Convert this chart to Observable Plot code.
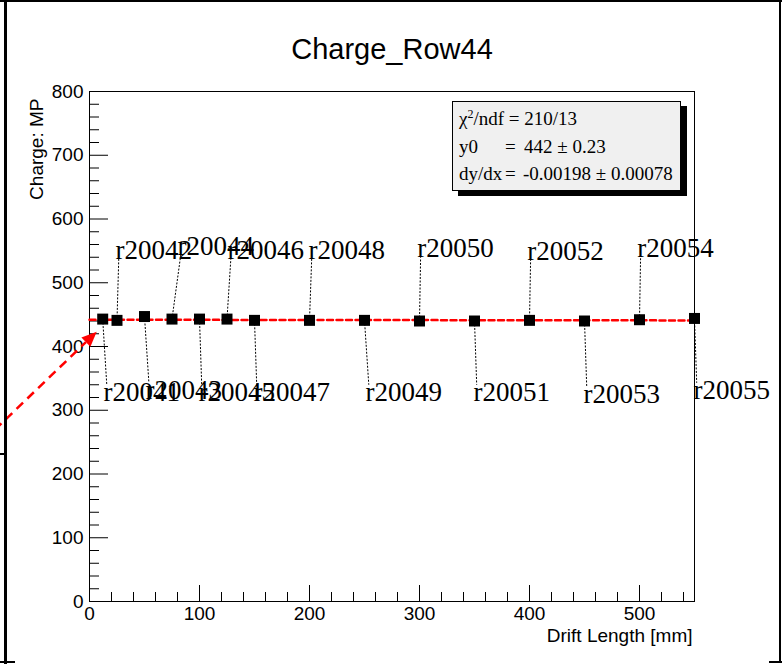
<!DOCTYPE html>
<html><head><meta charset="utf-8">
<script src="https://cdn.jsdelivr.net/npm/d3@7"></script>
<script src="https://cdn.jsdelivr.net/npm/@observablehq/plot@0.6"></script>
<style>
html,body{margin:0;padding:0;background:#fff;}
#wrap{position:relative;width:782px;height:664px;overflow:hidden;background:#fff;}
#wrap svg{position:absolute;left:0;top:0;}
.ln{position:absolute;background:#000;}
#stats{position:absolute;left:452px;top:101px;width:229px;height:90px;background:#f0f0f0;border:1px solid #000;box-shadow:6px 5px 0 #000;box-sizing:border-box;font-family:"Liberation Serif","Times New Roman",serif;font-size:19px;color:#000;}
#stats span{position:absolute;white-space:pre;line-height:1;}
</style></head><body><div id="wrap"></div>
<script>
// ---- data ----
const driftLength = [12, 25, 50, 75, 100, 125, 150, 200, 250, 300, 350, 400, 450, 500, 550];
const chargeMP    = [443, 441, 447, 443, 443, 443, 441, 441, 441, 440, 440, 441, 440, 442, 444];
const runLabels   = ["r20041","r20042","r20043","r20044","r20045","r20046","r20047","r20048",
                     "r20049","r20050","r20051","r20052","r20053","r20054","r20055"];
const labelSide   = ["bottom","top","bottom","top","bottom","top","bottom","top",
                     "bottom","top","bottom","top","bottom","top","bottom"];
const labelX      = [12.7, 23.6, 51, 80, 99, 125.5, 149, 199, 250.9, 298, 349, 398, 449, 498, 549];
const labelY      = [314, 538, 317, 544, 314, 538, 314, 538, 314, 540, 314, 536, 312, 541, 317];
const fitY0 = 442, fitSlope = -0.00198;
const statNames  = ["\u03c7\u00b2/ndf", "y0", "dy/dx"];
const statValues = ["210/13", "442 \u00b1 0.23", "-0.00198 \u00b1 0.00078"];
const xMajor = [0, 100, 200, 300, 400, 500];
const xMinor = [20,40,60,80,120,140,160,180,220,240,260,280,320,340,360,380,420,440,460,480,520,540];
const yMajor = [0, 100, 200, 300, 400, 500, 600, 700, 800];
const yMinor = [20,40,60,80,120,140,160,180,220,240,260,280,320,340,360,380,420,440,460,480,
                520,540,560,580,620,640,660,680,720,740,760,780];
const arrowFrom = {x: -85.5, y: 268.7};
const arrowTo   = {x: 7, y: 422.4};

const points = driftLength.map((x, i) => ({x, y: chargeMP[i], run: runLabels[i], side: labelSide[i], lx: labelX[i], ly: labelY[i]}));
const fitLine = [0, 550].map(x => ({x, y: fitY0 + fitSlope * x}));

const W = 782, H = 664, mL = 89, mR = 88, mT = 91, mB = 63;
const innerW = W - mL - mR, innerH = H - mT - mB;
const sans = "'Liberation Sans', Arial, Helvetica, sans-serif";
const serif = "'Liberation Serif', 'Times New Roman', serif";

const chart = Plot.plot({
  width: W, height: H,
  marginLeft: mL, marginRight: mR, marginTop: mT, marginBottom: mB,
  style: {fontFamily: sans, fontSize: "19px", color: "#000", background: "transparent", overflow: "visible"},
  x: {domain: [0, 550], axis: null},
  y: {domain: [0, 800], axis: null},
  marks: [
    Plot.frame({stroke: "#000", strokeWidth: 1}),
    // ticks (inside the frame)
    Plot.tickX(xMajor, {x: d => d, insetTop: innerH - 16, stroke: "#000", strokeWidth: 1}),
    Plot.tickX(xMinor, {x: d => d, insetTop: innerH - 9, stroke: "#000", strokeWidth: 1}),
    Plot.tickY(yMajor, {y: d => d, insetRight: innerW - 19, stroke: "#000", strokeWidth: 1}),
    Plot.tickY(yMinor, {y: d => d, insetRight: innerW - 10, stroke: "#000", strokeWidth: 1}),
    Plot.axisX(xMajor, {tickSize: 0, tickPadding: 5, label: null, fontSize: 19, fontFamily: sans}),
    Plot.axisY(yMajor, {tickSize: 0, tickPadding: 6, label: null, fontSize: 19, fontFamily: sans}),
    // axis titles and title
    Plot.text(["Drift Length [mm]"], {frameAnchor: "bottom-right", textAnchor: "end", lineAnchor: "bottom", dx: -2, dy: 40, fontSize: 19, fontFamily: sans}),
    Plot.text(["Charge: MP"], {frameAnchor: "top-left", textAnchor: "end", lineAnchor: "bottom", rotate: -90, dx: -47, dy: 7, fontSize: 19, fontFamily: sans}),
    Plot.text(["Charge_Row44"], {frameAnchor: "top", lineAnchor: "bottom", dy: -33, fontSize: 29, fontFamily: sans}),
    // leader lines
    Plot.link(points, {x1: "x", y1: "y", x2: d => d.lx + 3, y2: d => d.side === "top" ? d.ly : d.ly + 26,
      stroke: "#000", strokeWidth: 1, strokeDasharray: "2,1.5"}),
    // fit line
    Plot.line(fitLine, {x: "x", y: "y", stroke: "#ff0000", strokeWidth: 2.5, strokeDasharray: "6,3.5"}),
    // points
    Plot.dot(points, {x: "x", y: "y", symbol: "square", r: 6.2, fill: "#000", stroke: "none"}),
    // run labels
    Plot.text(points, {x: "lx", y: "ly", text: "run", textAnchor: "start", lineAnchor: "bottom", fontSize: 27, fontFamily: serif, fill: "#000"})
  ]
});

const wrap = document.getElementById("wrap");
wrap.appendChild(chart);

// red dashed arrow through the library scales
const sx = chart.scale("x"), sy = chart.scale("y");
const ax0 = sx.apply(arrowFrom.x), ay0 = sy.apply(arrowFrom.y);
const ax1 = sx.apply(arrowTo.x), ay1 = sy.apply(arrowTo.y);
const ang = Math.atan2(ay1 - ay0, ax1 - ax0);
const hl = 15, hw = 6.5;
const bx = ax1 - hl * Math.cos(ang), by = ay1 - hl * Math.sin(ang);
const svg = d3.select(chart.tagName.toLowerCase() === "svg" ? chart : chart.querySelector("svg"));
svg.append("line").attr("x1", ax0).attr("y1", ay0).attr("x2", bx).attr("y2", by)
  .attr("stroke", "#ff0000").attr("stroke-width", 2.5).attr("stroke-dasharray", "9,6");
svg.append("path").attr("d", `M${ax1},${ay1}L${bx + hw * Math.sin(ang)},${by - hw * Math.cos(ang)}L${bx - hw * Math.sin(ang)},${by + hw * Math.cos(ang)}Z`)
  .attr("fill", "#ff0000");

// outer canvas frame pieces
function ln(l, t, w, h) { const d = document.createElement("div"); d.className = "ln"; d.style.cssText = `left:${l}px;top:${t}px;width:${w}px;height:${h}px`; wrap.appendChild(d); }
ln(0, 0, 782, 2);
ln(4, 0, 3, 664);
ln(779, 0, 2, 663);
ln(0, 453, 7, 2);
ln(0, 661, 15, 2);
ln(769, 661, 13, 2);

// stats box
const st = document.createElement("div"); st.id = "stats"; wrap.appendChild(st);
function sp(txt, l, t, html) { const s = document.createElement("span"); if (html) s.innerHTML = txt; else s.textContent = txt; s.style.left = l + "px"; s.style.top = t + "px"; st.appendChild(s); }
// positions relative to box
sp("\u03c7<sup style='font-size:12px;vertical-align:7px;line-height:0'>2</sup>/ndf = " + statValues[0], 6, 7, true);
sp(statNames[1], 6, 35); sp("=", 52, 35); sp(statValues[1], 71, 35);
sp(statNames[2], 6, 62); sp("=", 52, 62); sp(statValues[2], 70, 62);
</script></body></html>
